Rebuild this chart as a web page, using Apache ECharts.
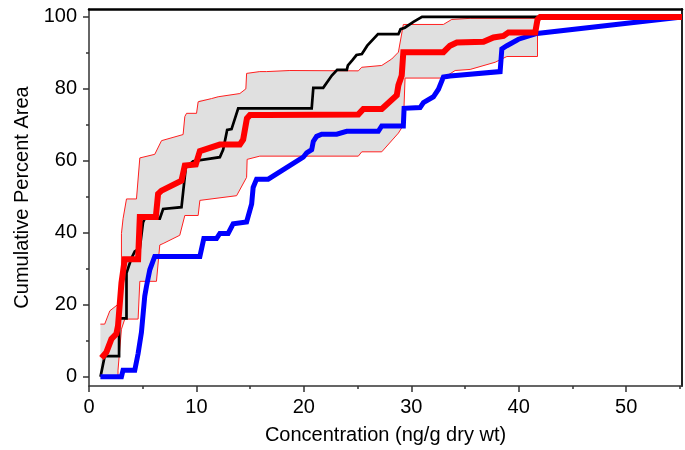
<!DOCTYPE html>
<html>
<head>
<meta charset="utf-8">
<script src="https://cdn.jsdelivr.net/npm/echarts@6/dist/echarts.min.js"></script>
<style>
html,body{margin:0;padding:0;background:#fff;}
#chart{width:685px;height:450px;}
</style>
</head>
<body>
<div id="chart"></div>
<script>
// ---- Data (x = concentration ng/g dry wt, y = cumulative percent area) ----
const xTicks = [0, 10, 20, 30, 40, 50];
const xMinorTicks = [5, 15, 25, 35, 45, 55];
const yTicks = [0, 20, 40, 60, 80, 100];
const yMinorTicks = [10, 30, 50, 70, 90];

const blackLine = [
  [1.07,0],[1.46,5.7],[2.80,5.7],[2.80,16.2],[3.49,16.2],[3.49,28.8],[3.95,32.9],[4.26,34.8],
  [4.73,35.7],[5.03,42.9],[5.19,43.9],[6.59,43.9],[6.90,46.6],[8.61,47.1],[8.76,51.2],[9.01,58.1],
  [9.69,59.9],[12.18,61.0],[12.49,63.1],[12.86,68.6],[13.27,68.8],[13.89,74.6],[20.73,74.6],
  [20.88,80.3],[21.8,80.3],[22.6,83.7],[23.1,85.3],[24.0,85.3],[24.1,86.5],[24.5,87.9],[24.9,89.4],
  [25.4,89.7],[25.9,92.0],[26.9,95.2],[28.8,95.2],[29.0,96.6],[29.4,97.0],[30.2,98.6],[31.0,100],
  [41.8,100]
];

const redLine = [
  [1.16,5.2],[1.62,6.8],[2.09,10.5],[2.55,11.9],[2.70,14.1],[3.02,26.0],[3.33,32.6],[4.57,32.6],
  [4.73,44.4],[6.22,44.4],[6.43,50.8],[6.75,51.7],[8.61,54.5],[8.92,58.7],[9.08,59.0],[9.94,59.0],
  [10.32,62.7],[12.18,64.5],[14.04,64.5],[14.35,65.9],[14.70,71.8],[14.98,72.7],[16.53,72.7],
  [25.07,72.9],[25.54,74.4],[27.25,74.4],[28.65,78.2],[28.80,81.0],[29.11,83.7],[29.26,90.2],
  [32.99,90.2],[33.6,92.0],[34.24,92.9],[36.72,93.1],[37.65,94.3],[38.58,94.7],[39.05,95.7],
  [41.54,95.7],[41.75,99.3],[42.0,100],[55.2,100]
];

const blueLine = [
  [1.06,0],[3.02,0],[3.17,1.8],[4.26,1.8],[4.57,6.4],[4.73,6.8],[4.88,12.3],[5.19,22.4],[5.35,25.1],
  [5.66,29.7],[6.12,33.4],[10.32,33.4],[10.69,38.4],[11.87,38.4],[12.18,39.8],[12.95,39.8],
  [13.42,42.5],[14.67,43.0],[15.14,48.0],[15.28,52.6],[15.6,54.9],[16.68,54.9],[19.94,61.0],
  [20.26,62.2],[20.73,63.1],[20.88,65.4],[21.19,66.8],[21.66,67.4],[23.06,67.4],[23.99,68.2],
  [26.93,68.2],[27.25,69.7],[29.26,69.7],[29.33,74.6],[30.82,74.8],[31.13,76.2],[32.06,77.8],
  [32.53,79.9],[32.99,83.3],[33.61,83.6],[38.27,84.8],[38.43,91.1],[38.9,92.0],[39.98,93.8],
  [41.70,95.4],[55.2,100]
];

const bandUpper = [
  [1.06,14.6],[1.46,14.6],[1.94,18.3],[2.70,20.1],[2.86,22.4],[3.02,27.9],[3.02,39.8],[3.17,43.9],
  [3.49,49.4],[4.42,49.4],[4.73,60.8],[6.12,61.8],[6.75,65.6],[8.76,67.3],[8.92,72.3],[9.08,73.2],
  [10.01,73.2],[10.16,76.4],[10.32,76.9],[11.41,77.3],[12.02,77.8],[14.04,78.7],[14.6,80.0],
  [14.67,84.3],[15.9,84.8],[16.53,84.8],[18.7,85.1],[25.07,85.0],[25.39,86.0],[27.25,86.5],
  [28.18,88.3],[28.80,90.2],[29.26,97.9],[32.99,97.9],[33.77,99.3],[35.48,99.6],[41.75,99.6]
];

const bandLower = [
  [1.06,0],[2.70,0],[2.70,1.8],[3.02,13.2],[3.33,16.0],[4.57,16.0],[4.73,26.5],[6.28,26.5],
  [6.59,36.6],[6.90,37.0],[8.45,39.3],[8.92,44.8],[10.16,44.8],[10.32,49.0],[13.74,50.3],
  [14.67,55.4],[14.72,60.4],[15.9,61.3],[25.07,61.3],[25.39,62.5],[27.25,62.5],[28.8,67.7],
  [29.26,69.9],[29.42,83.0],[32.99,83.0],[34.08,85.1],[35.48,85.4],[37.81,87.4],[38.9,89.0],
  [41.75,89.0]
];

const X_MIN = 0, X_MAX = 55.2, Y_MIN = -2.6, Y_MAX = 102.2;
const FONT = '"Liberation Sans", Arial, sans-serif';

const chart = echarts.init(document.getElementById('chart'), null, {renderer: 'canvas'});

function lineSeries(data, color, width, z) {
  return {
    type: 'line', data: data, xAxisIndex: 0, yAxisIndex: 0,
    showSymbol: false, symbol: 'none', silent: true, z: z,
    lineStyle: {color: color, width: width, join: 'miter'},
    animation: false
  };
}

const option = {
  animation: false,
  backgroundColor: '#ffffff',
  grid: {left: 89, right: 3, top: 9, bottom: 58, containLabel: false},
  xAxis: [
    {
      type: 'value', min: X_MIN, max: X_MAX, position: 'bottom',
      name: 'Concentration (ng/g dry wt)', nameLocation: 'middle', nameGap: 39,
      nameTextStyle: {fontFamily: FONT, fontSize: 20, color: '#000'},
      axisLine: {show: true, onZero: false, lineStyle: {color: '#333', width: 1.5}},
      axisTick: {show: true, inside: false, length: 6, customValues: xTicks, lineStyle: {color: '#333', width: 1.5}},
      axisLabel: {show: true, customValues: xTicks, margin: 11, fontFamily: FONT, fontSize: 20, color: '#000'},
      splitLine: {show: false}
    },
    {
      type: 'value', min: X_MIN, max: X_MAX, position: 'bottom', gridIndex: 0,
      axisLine: {show: false, onZero: false},
      axisTick: {show: true, length: 3, customValues: xMinorTicks, lineStyle: {color: '#333', width: 1.5}},
      axisLabel: {show: false},
      splitLine: {show: false}
    },
    {
      type: 'value', min: X_MIN, max: X_MAX, position: 'top', gridIndex: 0,
      axisLine: {show: true, onZero: false, lineStyle: {color: '#000', width: 2.5}},
      axisTick: {show: false}, axisLabel: {show: false}, splitLine: {show: false}
    }
  ],
  yAxis: [
    {
      type: 'value', min: Y_MIN, max: Y_MAX, position: 'left',
      name: 'Cumulative Percent Area', nameLocation: 'middle', nameGap: 57,
      nameTextStyle: {fontFamily: FONT, fontSize: 20, color: '#000'},
      axisLine: {show: true, onZero: false, lineStyle: {color: '#333', width: 1.5}},
      axisTick: {show: true, inside: false, length: 6, customValues: yTicks, lineStyle: {color: '#333', width: 1.5}},
      axisLabel: {show: true, customValues: yTicks, margin: 12, fontFamily: FONT, fontSize: 20, color: '#000'},
      splitLine: {show: false}
    },
    {
      type: 'value', min: Y_MIN, max: Y_MAX, position: 'left', gridIndex: 0,
      axisLine: {show: false, onZero: false},
      axisTick: {show: true, length: 3, customValues: yMinorTicks, lineStyle: {color: '#333', width: 1.5}},
      axisLabel: {show: false},
      splitLine: {show: false}
    },
    {
      type: 'value', min: Y_MIN, max: Y_MAX, position: 'right', gridIndex: 0,
      axisLine: {show: true, onZero: false, lineStyle: {color: '#222', width: 2}},
      axisTick: {show: false}, axisLabel: {show: false}, splitLine: {show: false}
    }
  ],
  series: [
    {
      type: 'custom', xAxisIndex: 0, yAxisIndex: 0, silent: true, z: 1,
      data: [[bandUpper[0][0], bandUpper[0][1]]],
      encode: {x: 0, y: 1},
      renderItem: function (params, api) {
        const pts = bandUpper.map(p => api.coord(p))
          .concat(bandLower.slice().reverse().map(p => api.coord(p)));
        return {type: 'polygon', shape: {points: pts}, style: {fill: '#e0e0e0', stroke: null}};
      }
    },
    lineSeries(bandUpper.concat([bandLower[bandLower.length - 1]]), '#ff2020', 1, 2),
    lineSeries(bandLower, '#ff2020', 1, 2),
    lineSeries(blackLine, '#000000', 2.7, 3),
    lineSeries(blueLine, '#0000ff', 5, 4),
    lineSeries(redLine, '#ff0000', 6, 5)
  ]
};

chart.setOption(option);
</script>
</body>
</html>
